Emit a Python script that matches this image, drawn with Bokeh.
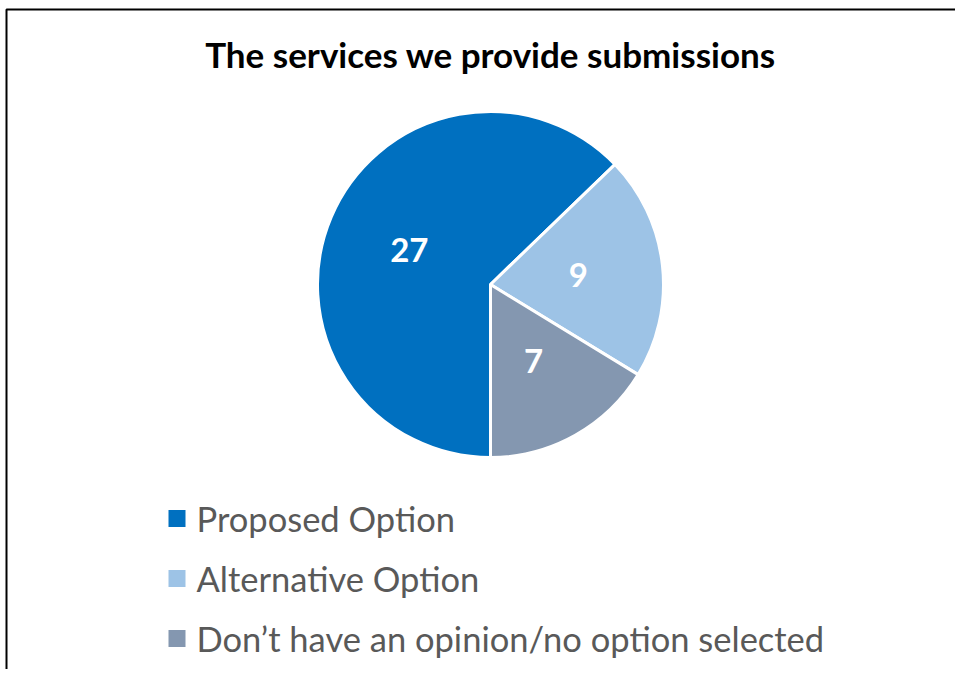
import math
from bokeh.plotting import figure
from bokeh.models import ColumnDataSource, Range1d
from bokeh.core.properties import value
from bokeh.embed import file_html
from bokeh.resources import INLINE

# ---- data ----
title = "The services we provide submissions"
categories = ["Proposed Option", "Alternative Option", "Don\u2019t have an opinion/no option selected"]
counts = [27, 9, 7]
colors = ["#0070C0", "#9DC3E6", "#8497B0"]

# ---- layout ----
W, H = 955, 669
FONT = "Lato"
cx, cy, R = 490, H - 284, 173
first_slice_cw = 180.0  # degrees clockwise from 12 o'clock
label_frac = 0.51

p = figure(width=W, height=H, output_backend="svg", toolbar_location=None,
           x_range=Range1d(0, W), y_range=Range1d(0, H), min_border=0,
           outline_line_color=None)
p.axis.visible = False
p.grid.visible = False
p.background_fill_color = "white"

# border (top + left visible in reference)
bx, by = 6, H - 9
p.line(x=[bx, bx, W], y=[0, by, by], line_color="black", line_width=2)

total = sum(counts)
starts, ends, lx, ly = [], [], [], []
a = first_slice_cw
for c in counts:
    span = 360.0 * c / total
    b = a + span
    starts.append(math.radians(90 - a))
    ends.append(math.radians(90 - b))
    mid = math.radians(90 - (a + span / 2))
    lx.append(cx + label_frac * R * math.cos(mid))
    ly.append(cy + label_frac * R * math.sin(mid))
    a = b

src = ColumnDataSource(dict(start=starts, end=ends, color=colors,
                            lx=lx, ly=ly, txt=[str(c) for c in counts]))
p.wedge(x=cx, y=cy, radius=R, start_angle="start", end_angle="end",
        direction="clock", fill_color="color", line_color="white",
        line_width=3, source=src)
p.text(x="lx", y="ly", text="txt", source=src, text_color="white",
       text_font=value(FONT), text_font_style="bold", text_font_size="33px",
       text_align="center", text_baseline="middle")

# title
p.text(x=[cx], y=[H - 53], text=[title], text_font=value(FONT),
       text_font_style="bold", text_font_size="35px", text_color="black",
       text_align="center", text_baseline="middle")

# legend
leg_y = [H - 518 - 60 * i for i in range(len(categories))]
p.rect(x=[176.5] * len(categories), y=leg_y, width=17, height=17,
       width_units="screen", height_units="screen",
       fill_color=colors, line_color=None)
p.text(x=[196] * len(categories), y=leg_y, text=categories,
       text_font=value(FONT), text_font_size="34.5px", text_color="#595959",
       text_align="left", text_baseline="middle")

open("out.html", "w").write(file_html(p, INLINE))
